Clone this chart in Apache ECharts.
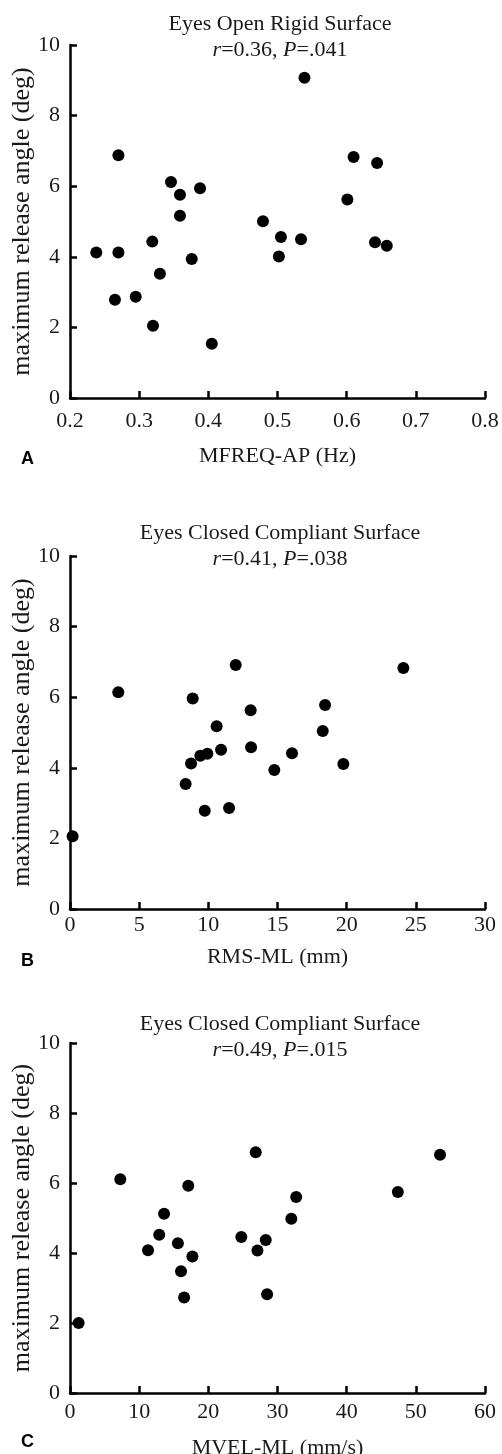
<!doctype html>
<html lang="en">
<head>
    <meta charset="UTF-8">
    <title>Release angle vs sway</title>
    <script src="https://cdn.jsdelivr.net/npm/echarts@6/dist/echarts.min.js"></script>
    <style>
        html, body { margin: 0; padding: 0; background: #fff; }
    </style>
</head>
<body>
    <div id="main" style="width: 502px;height:1454px;"></div>
    <script>
        // panel A: eyes open, rigid surface
        var mfreqAP = [0.539, 0.270, 0.610, 0.644, 0.346, 0.359, 0.388, 0.359, 0.601, 0.479, 0.505, 0.534,
                       0.319, 0.641, 0.658, 0.238, 0.270, 0.502, 0.376, 0.330, 0.265, 0.295, 0.320, 0.405];
        var angleA  = [9.07, 6.88, 6.83, 6.66, 6.12, 5.76, 5.94, 5.16, 5.62, 5.01, 4.56, 4.50,
                       4.43, 4.41, 4.31, 4.12, 4.12, 4.01, 3.94, 3.52, 2.78, 2.87, 2.05, 1.54];

        // panel B: eyes closed, compliant surface
        var rmsML  = [11.98, 24.1, 3.49, 8.87, 13.06, 18.44, 10.6, 18.27, 10.92, 13.09, 9.42, 9.93,
                      16.05, 8.75, 19.76, 14.77, 8.36, 9.74, 11.5, 0.19];
        var angleB = [6.91, 6.83, 6.14, 5.96, 5.63, 5.78, 5.18, 5.04, 4.51, 4.58, 4.34, 4.40,
                      4.41, 4.12, 4.11, 3.94, 3.54, 2.78, 2.86, 2.06];

        // panel C: eyes closed, compliant surface
        var mvelML = [26.85, 53.5, 7.27, 17.1, 32.7, 47.4, 13.6, 32.0, 12.9, 24.77, 28.3, 15.6,
                      11.28, 27.1, 17.7, 16.05, 16.5, 28.5, 1.25];
        var angleC = [6.88, 6.81, 6.11, 5.92, 5.60, 5.74, 5.12, 4.98, 4.52, 4.46, 4.37, 4.28,
                      4.08, 4.07, 3.90, 3.48, 2.73, 2.82, 2.00];

        var yTicks = [0, 10, 2];

        function pairs(xs, ys) {
            return xs.map(function (x, i) { return [x, ys[i]]; });
        }

        var serif = 'Liberation Serif';
        var ink = '#1a1a1a';

        var panels = [
            {top: 45,   height: 353, xName: 'MFREQ-AP (Hz)', xMin: 0.2, xMax: 0.8, xInt: 0.1, dec: 1,
             nameGap: 47, labMargin: 12, titleTop: 11, stat: ['0.36', '.041'], head: 'Eyes Open Rigid Surface',
             letter: 'A', letterY: 450, data: pairs(mfreqAP, angleA)},
            {top: 556,  height: 353, xName: 'RMS-ML (mm)', xMin: 0, xMax: 30, xInt: 5, dec: 0,
             nameGap: 37, labMargin: 5, titleTop: 520, stat: ['0.41', '.038'], head: 'Eyes Closed Compliant Surface',
             letter: 'B', letterY: 952, data: pairs(rmsML, angleB)},
            {top: 1043, height: 350, xName: 'MVEL-ML (mm/s)', xMin: 0, xMax: 60, xInt: 10, dec: 0,
             nameGap: 44, labMargin: 8, titleTop: 1011, stat: ['0.49', '.015'], head: 'Eyes Closed Compliant Surface',
             letter: 'C', letterY: 1433, data: pairs(mvelML, angleC)}
        ];

        var axisLine = {lineStyle: {color: '#000', width: 2.5}};
        var axisTick = {inside: true, length: 7, lineStyle: {color: '#000', width: 2.5}};

        var option = {
            backgroundColor: '#fff',
            animation: false,
            title: [], grid: [], xAxis: [], yAxis: [], series: [], graphic: []
        };

        panels.forEach(function (p, i) {
            option.title.push({
                text: '{n|' + p.head + '}\n{i|r}{n|=' + p.stat[0] + ', }{i|P}{n|=' + p.stat[1] + '}',
                left: 280, top: p.titleTop, textAlign: 'center', padding: 0,
                textStyle: {
                    fontWeight: 'normal',
                    rich: {
                        n: {fontFamily: serif, fontSize: 22, fontWeight: 'normal', color: ink, lineHeight: 26},
                        i: {fontFamily: serif, fontSize: 22, fontWeight: 'normal', fontStyle: 'italic', color: ink, lineHeight: 26}
                    }
                }
            });
            option.grid.push({left: 70, top: p.top, width: 415, height: p.height,
                              containLabel: false, outerBoundsMode: 'none'});
            option.xAxis.push({
                type: 'value', gridIndex: i, min: p.xMin, max: p.xMax, interval: p.xInt,
                name: p.xName, nameLocation: 'middle', nameGap: p.nameGap, nameMoveOverlap: false,
                nameTextStyle: {fontFamily: serif, fontSize: 22, color: ink},
                axisLine: axisLine, axisTick: axisTick, splitLine: {show: false},
                axisLabel: {
                    fontFamily: serif, fontSize: 22, color: ink, margin: p.labMargin,
                    showMinLabel: true, showMaxLabel: true,
                    formatter: function (v) { return v.toFixed(p.dec); }
                }
            });
            option.yAxis.push({
                type: 'value', gridIndex: i, min: yTicks[0], max: yTicks[1], interval: yTicks[2],
                name: 'maximum release angle (deg)', nameLocation: 'middle', nameGap: 35, nameMoveOverlap: false,
                nameTextStyle: {fontFamily: serif, fontSize: 26, color: ink},
                axisLine: axisLine, axisTick: axisTick, splitLine: {show: false},
                axisLabel: {fontFamily: serif, fontSize: 22, color: ink, margin: 10}
            });
            option.series.push({
                type: 'scatter', xAxisIndex: i, yAxisIndex: i,
                symbol: 'circle', symbolSize: 12,
                itemStyle: {color: '#000', opacity: 1},
                data: p.data
            });
            option.graphic.push({
                type: 'text', left: 21, top: p.letterY,
                style: {text: p.letter, font: 'bold 18px "Liberation Sans"', fill: '#000'}
            });
        });

        var myChart = echarts.init(document.getElementById('main'));
        myChart.setOption(option);
    </script>
</body>
</html>
